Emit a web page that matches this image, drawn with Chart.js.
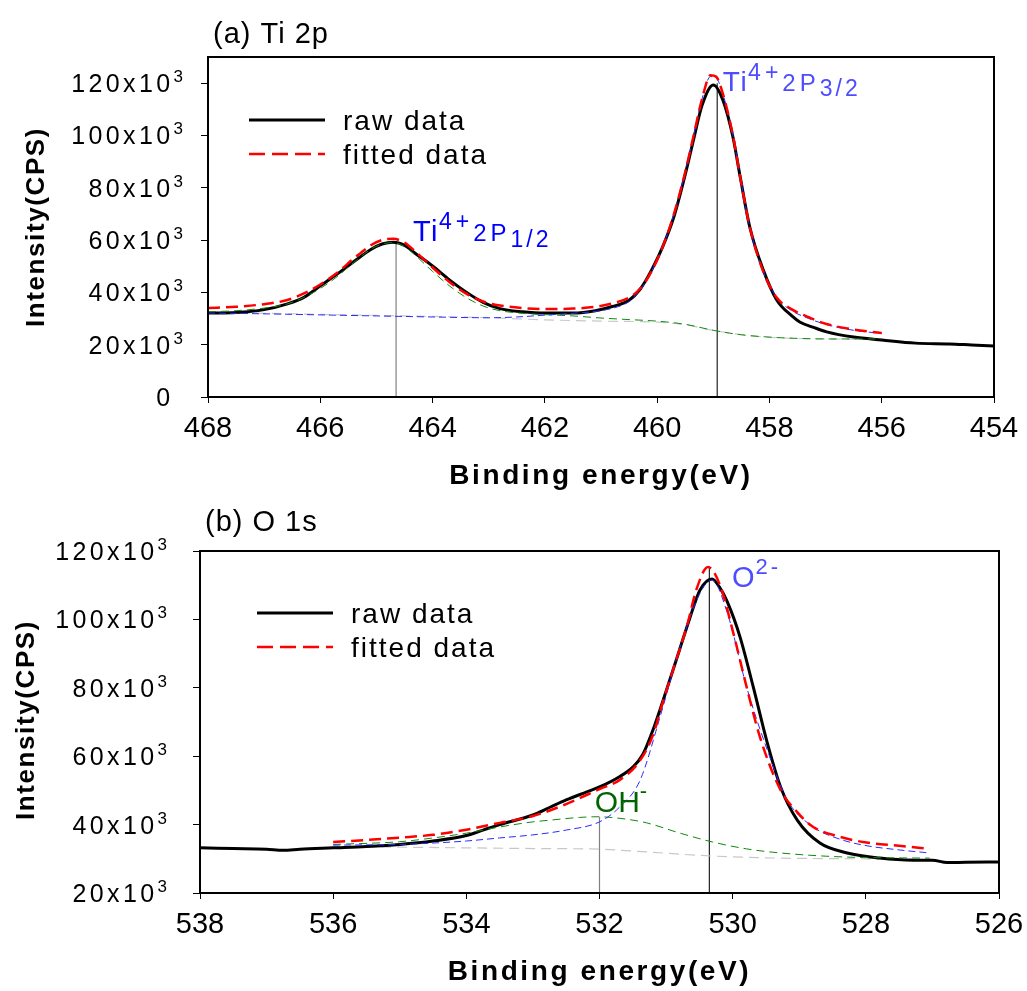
<!DOCTYPE html>
<html>
<head>
<meta charset="utf-8">
<script src="https://cdn.jsdelivr.net/npm/chart.js@4.4.1/dist/chart.umd.min.js"></script>
<style>
  html, body { margin: 0; padding: 0; background: #fff; }
  .box { position: relative; width: 1027px; }
  #tiBox { height: 495px; }
  #oBox { height: 496px; }
</style>
</head>
<body>
<div class="box" id="tiBox"><canvas id="ti"></canvas></div>
<div class="box" id="oBox"><canvas id="o1s"></canvas></div>
<script>
// intensities are in 10^3 CPS, energies in eV

// (a) Ti 2p
const tiRawE = [468.0, 467.5, 467.0, 466.6, 466.3, 466.0, 465.7, 465.4, 465.1, 464.9, 464.7, 464.5, 464.3, 464.0, 463.7, 463.4, 463.1, 462.8, 462.4, 462.0, 461.5, 461.1, 460.8, 460.5, 460.3, 460.1, 459.9, 459.7, 459.5, 459.35, 459.2, 459.0, 458.83, 458.65, 458.52, 458.35, 458.11, 457.87, 457.6, 457.46, 457.2, 456.98, 456.5, 456.0, 455.4, 454.8, 454.4, 454.0];
const tiRawI = [32.1, 32.3, 33.4, 35.5, 38.0, 42.5, 47.0, 51.8, 56.4, 58.5, 59.2, 58.0, 54.8, 50.1, 44.8, 40.1, 36.2, 33.8, 32.6, 32.1, 32.1, 33.0, 34.6, 37.0, 41.3, 48.5, 57.5, 69.0, 85.0, 98.5, 111.5, 119.3, 113.6, 99.4, 84.1, 65.0, 48.6, 37.1, 31.0, 28.7, 26.5, 24.9, 22.9, 21.8, 20.6, 20.3, 19.9, 19.5];

const tiFitE = [468.0, 467.5, 467.0, 466.6, 466.3, 466.0, 465.7, 465.4, 465.1, 464.9, 464.7, 464.5, 464.3, 464.0, 463.7, 463.4, 463.1, 462.8, 462.4, 462.0, 461.5, 461.1, 460.8, 460.5, 460.3, 460.1, 459.9, 459.7, 459.5, 459.35, 459.2, 459.05, 458.95, 458.83, 458.65, 458.52, 458.35, 458.11, 457.87, 457.6, 457.3, 457.0, 456.5, 456.0];
const tiFitI = [34.0, 34.5, 35.5, 37.0, 39.5, 43.0, 47.5, 53.0, 58.0, 60.0, 60.5, 59.0, 55.5, 49.5, 44.0, 39.5, 36.5, 35.0, 34.0, 33.6, 33.8, 34.5, 35.8, 38.0, 41.5, 48.0, 57.5, 70.0, 86.0, 100.0, 114.0, 123.0, 122.5, 116.0, 100.0, 84.0, 65.0, 48.0, 38.0, 33.5, 30.5, 28.0, 25.8, 24.5];

const tiP32E = [468.0, 467.0, 466.0, 465.0, 464.0, 463.0, 462.5, 462.0, 461.5, 461.0, 460.7, 460.5, 460.3, 460.1, 459.9, 459.7, 459.5, 459.35, 459.2, 459.05, 458.95, 458.83, 458.65, 458.52, 458.35, 458.11, 457.87, 457.6, 457.3, 457.0, 456.5, 456.0];
const tiP32I = [32.1, 31.8, 31.4, 31.0, 30.6, 30.3, 30.6, 31.3, 32.0, 33.0, 34.5, 36.5, 41.0, 48.0, 57.5, 70.0, 86.0, 100.0, 114.0, 122.5, 122.0, 116.0, 100.0, 84.0, 65.0, 48.0, 38.0, 33.0, 30.0, 27.8, 25.5, 24.3];

const tiP12E = [468.0, 467.5, 467.0, 466.6, 466.3, 466.0, 465.7, 465.4, 465.1, 464.9, 464.7, 464.5, 464.3, 464.0, 463.7, 463.4, 463.1, 462.8, 462.4, 462.0, 461.5, 461.0, 460.5, 460.0, 459.5, 459.0, 458.5, 458.0, 457.5, 457.0, 456.5, 456.0];
const tiP12I = [32.6, 33.0, 34.0, 35.5, 38.0, 41.5, 46.0, 51.5, 56.5, 58.5, 59.0, 57.5, 54.0, 48.0, 42.5, 38.0, 34.8, 33.0, 32.0, 31.5, 31.0, 30.2, 29.6, 29.0, 27.8, 25.5, 23.8, 22.9, 22.4, 22.2, 22.2, 22.2];

const tiBgE = [468.0, 467.0, 466.0, 465.0, 464.0, 463.0, 462.0, 461.0, 460.0, 459.5, 459.0, 458.5, 458.0, 457.0, 456.0];
const tiBgI = [32.3, 32.0, 31.6, 31.2, 30.8, 30.3, 29.5, 29.0, 28.6, 27.6, 25.5, 23.8, 22.8, 22.2, 22.0];

const tiPeakE = [464.65, 458.93];
const tiPeakTop = [59.2, 120];
const tiRangeX = [468, 454];
const tiRangeY = [0, 130];

// (b) O 1s
const oRawE = [538.0, 537.5, 537.0, 536.75, 536.5, 536.0, 535.5, 535.0, 534.5, 534.0, 533.75, 533.5, 533.0, 532.75, 532.5, 532.2, 532.0, 531.7, 531.5, 531.35, 531.2, 531.0, 530.8, 530.65, 530.49, 530.31, 530.2, 530.08, 529.89, 529.69, 529.48, 529.28, 529.03, 528.69, 528.28, 527.79, 527.29, 527.0, 526.78, 526.5, 526.0];
const oRawI = [33.2, 33.0, 32.8, 32.5, 32.8, 33.2, 33.6, 34.2, 35.2, 36.8, 38.4, 40.0, 42.8, 45.0, 47.2, 49.5, 51.0, 54.0, 56.8, 60.5, 67.5, 79.0, 91.0, 100.0, 108.6, 111.8, 109.5, 105.1, 94.9, 80.2, 63.9, 51.0, 41.3, 34.6, 31.7, 30.2, 29.6, 29.6, 28.9, 29.0, 29.1];

const oFitE = [536.0, 535.5, 535.0, 534.5, 534.0, 533.5, 533.0, 532.5, 532.0, 531.7, 531.4, 531.2, 531.04, 530.85, 530.69, 530.54, 530.37, 530.19, 529.99, 529.79, 529.59, 529.28, 529.0, 528.79, 528.4, 528.04, 527.5, 527.04];
const oFitI = [34.9, 35.5, 36.2, 37.0, 38.5, 40.5, 42.5, 46.0, 50.4, 53.0, 58.5, 66.0, 76.4, 88.0, 97.8, 109.0, 115.3, 110.0, 96.0, 80.2, 65.6, 50.1, 43.0, 39.3, 36.5, 34.9, 33.8, 32.9];

const oO2E = [536.0, 535.0, 534.5, 534.0, 533.5, 533.0, 532.5, 532.0, 531.7, 531.39, 531.09, 530.79, 530.49, 530.31, 530.08, 529.79, 529.48, 529.18, 528.79, 528.4, 528.04, 527.5, 527.04];
const oO2I = [34.0, 34.2, 34.6, 35.2, 36.1, 37.0, 38.4, 40.8, 45.1, 53.0, 71.5, 91.9, 107.7, 111.5, 101.9, 80.2, 61.8, 47.2, 39.3, 35.8, 34.0, 32.6, 31.7];

const oOHE = [536.0, 535.0, 534.5, 534.0, 533.5, 533.0, 532.74, 532.3, 532.0, 531.9, 531.6, 531.29, 530.79, 530.3, 529.79, 529.28, 528.28, 527.04];
const oOHI = [34.2, 35.0, 36.1, 37.5, 39.3, 40.8, 41.3, 42.1, 42.3, 42.2, 41.6, 40.5, 37.5, 34.9, 32.9, 31.7, 30.5, 30.2];

const oBgE = [536.0, 535.0, 534.0, 533.0, 532.0, 531.29, 530.3, 529.28, 528.0, 527.04];
const oBgI = [33.6, 33.4, 33.2, 33.0, 32.8, 32.0, 30.8, 30.2, 30.0, 29.9];

const oPeakE = [532.0, 530.35];
const oPeakTop = [42.2, 115.3];
const oRangeX = [538, 526];
const oRangeY = [20, 120];

const FONT = "'Liberation Sans', Arial, sans-serif";

const pts = (e, v) => e.map((x, i) => ({ x: x, y: v[i] }));

function dashed(label, e, v, color, dash, width) {
  return { label, data: pts(e, v), borderColor: color, borderWidth: width, borderDash: dash,
           pointRadius: 0, fill: false, cubicInterpolationMode: 'monotone' };
}

function vline(x, base, top, color) {
  return { label: 'peak', data: [{ x: x, y: base }, { x: x, y: top }], borderColor: color,
           borderWidth: 1.2, pointRadius: 0, fill: false };
}

function drawRich(ctx, x, y, parts, color) {
  ctx.save();
  ctx.fillStyle = color;
  ctx.textBaseline = 'alphabetic';
  ctx.textAlign = 'left';
  for (const p of parts) {
    ctx.font = (p.bold ? 'bold ' : '') + p.size + 'px ' + FONT;
    ctx.letterSpacing = (p.ls || 0) + 'px';
    ctx.fillText(p.t, x, y + (p.dy || 0));
    x += ctx.measureText(p.t).width;
  }
  ctx.restore();
}

// frame, titles, legend, peak labels and y tick labels
function decorPlugin(cfg) {
  return {
    id: 'decor',
    afterDraw(chart) {
      const ctx = chart.ctx;
      const a = chart.chartArea;
      const xs = chart.scales.x, ys = chart.scales.y;
      ctx.save();
      ctx.strokeStyle = '#000';
      ctx.lineWidth = 2;
      ctx.strokeRect(a.left, a.top, a.right - a.left, a.bottom - a.top);

      drawRich(ctx, cfg.titleX, cfg.titleY, [{ t: cfg.title, size: 29, ls: 1 }], '#000');

      // legend
      const lx = a.left + cfg.legX, ly = a.top + cfg.legY;
      ctx.lineWidth = 3; ctx.strokeStyle = '#000'; ctx.setLineDash([]);
      ctx.beginPath(); ctx.moveTo(lx, ly); ctx.lineTo(lx + 76, ly); ctx.stroke();
      ctx.lineWidth = 2.5; ctx.strokeStyle = '#ff0000'; ctx.setLineDash([16, 7]);
      ctx.beginPath(); ctx.moveTo(lx, ly + 34); ctx.lineTo(lx + 76, ly + 34); ctx.stroke();
      ctx.setLineDash([]);
      drawRich(ctx, lx + 94, ly + 10, [{ t: 'raw data', size: 28, ls: 2 }], '#000');
      drawRich(ctx, lx + 94, ly + 44, [{ t: 'fitted data', size: 28, ls: 2 }], '#000');

      cfg.labels.forEach(l => {
        drawRich(ctx, xs.getPixelForValue(l.e), ys.getPixelForValue(l.v), l.parts, l.color);
      });

      // y tick labels  "120x10^3"
      ys.ticks.forEach(t => {
        const py = ys.getPixelForValue(t.value);
        ctx.fillStyle = '#000';
        ctx.textBaseline = 'alphabetic';
        ctx.textAlign = 'left';
        ctx.font = '17px ' + FONT;
        ctx.letterSpacing = '0px';
        const supW = ctx.measureText('3').width;
        ctx.font = '25px ' + FONT;
        ctx.letterSpacing = '3.4px';
        if (t.value === 0) {
          const w = ctx.measureText('0').width;
          ctx.fillText('0', cfg.tickRight - supW - w, py + 9);
        } else {
          const main = t.value + 'x10';
          const w = ctx.measureText(main).width;
          const x0 = cfg.tickRight - supW - w;
          ctx.fillText(main, x0, py + 9);
          ctx.font = '17px ' + FONT;
          ctx.letterSpacing = '0px';
          ctx.fillText('3', x0 + w, py - 1);
        }
      });

      // axis titles
      ctx.save();
      ctx.font = 'bold 26px ' + FONT;
      ctx.letterSpacing = '1.6px';
      ctx.fillStyle = '#000';
      ctx.textAlign = 'center';
      ctx.textBaseline = 'middle';
      ctx.translate(cfg.yTitleX, cfg.yTitleY);
      ctx.rotate(-Math.PI / 2);
      ctx.fillText('Intensity(CPS)', 0, 0);
      ctx.restore();

      ctx.save();
      ctx.font = 'bold 28px ' + FONT;
      ctx.letterSpacing = '2.6px';
      ctx.fillStyle = '#000';
      ctx.textAlign = 'center';
      ctx.textBaseline = 'alphabetic';
      ctx.fillText('Binding energy(eV)', (a.left + a.right) / 2, a.bottom + 87);
      ctx.restore();
      ctx.restore();
    }
  };
}

function makeChart(id, sets, xr, yr, geo, cfg) {
  return new Chart(document.getElementById(id), {
    type: 'line',
    data: { datasets: sets },
    options: {
      responsive: true,
      maintainAspectRatio: false,
      animation: false,
      layout: { padding: { left: 0, right: geo.right, top: geo.top, bottom: 0 } },
      plugins: { legend: { display: false }, tooltip: { enabled: false }, title: { display: false } },
      scales: {
        x: {
          type: 'linear', reverse: true, min: xr[1], max: xr[0],
          ticks: { stepSize: 2, color: '#000', padding: 9, font: { family: FONT, size: 29 } },
          grid: { drawOnChartArea: false, drawTicks: true, tickLength: 6, color: '#000' },
          border: { color: '#000', width: 2 },
          afterFit(s) { s.height = geo.xh; s.paddingLeft = 0; s.paddingRight = 0; }
        },
        y: {
          type: 'linear', min: yr[0], max: yr[1],
          ticks: { stepSize: 20, display: false },
          grid: { drawOnChartArea: false, drawTicks: true, tickLength: 7, color: '#000' },
          border: { color: '#000', width: 2 },
          afterBuildTicks(s) { s.ticks = s.ticks.filter(t => t.value <= 120); },
          afterFit(s) { s.width = geo.yw; s.paddingTop = 0; s.paddingBottom = 0; }
        }
      }
    },
    plugins: [decorPlugin(cfg)]
  });
}

const RED = '#ff0000', BLUE = '#2a2aff', GREEN = '#118811', GRAY = '#c8c8c8';

makeChart('ti', [
  dashed('fitted data', tiFitE, tiFitI, RED, [12, 6], 2.5),
  dashed('Ti 2P3/2', tiP32E, tiP32I, BLUE, [7, 4], 1),
  dashed('Ti 2P1/2', tiP12E, tiP12I, GREEN, [8, 5], 1),
  dashed('raw data', tiRawE, tiRawI, '#000', [], 3),
  dashed('background', tiBgE, tiBgI, GRAY, [10, 6], 1.2),
  vline(tiPeakE[0], tiRangeY[0], tiPeakTop[0], '#808080'),
  vline(tiPeakE[1], tiRangeY[0], tiPeakTop[1], '#222')
], tiRangeX, tiRangeY, { right: 33, top: 57, xh: 98, yw: 208 }, {
  title: '(a) Ti 2p', titleX: 213, titleY: 43,
  legX: 41, legY: 63,
  tickRight: 183, yTitleX: 37, yTitleY: 227,
  labels: [
    { e: 464.35, v: 59.7, color: '#0000ff', parts: [
      { t: 'Ti', size: 29, ls: 1.5 }, { t: '4+', size: 23, dy: -12, ls: 4 },
      { t: '2P', size: 24, ls: 4 }, { t: '1/2', size: 23, dy: 6, ls: 3 }] },
    { e: 458.83, v: 117.0, color: '#4d4dff', parts: [
      { t: 'Ti', size: 28, ls: 1.5 }, { t: '4+', size: 23, dy: -11, ls: 4 },
      { t: '2P', size: 24, ls: 4 }, { t: '3/2', size: 23, dy: 5, ls: 3 }] }
  ]
});

makeChart('o1s', [
  dashed('fitted data', oFitE, oFitI, RED, [12, 6], 2.5),
  dashed('O2-', oO2E, oO2I, BLUE, [7, 4], 1),
  dashed('OH-', oOHE, oOHI, GREEN, [8, 5], 1),
  dashed('raw data', oRawE, oRawI, '#000', [], 3),
  dashed('background', oBgE, oBgI, GRAY, [10, 6], 1.2),
  vline(oPeakE[0], oRangeY[0], oPeakTop[0], '#808080'),
  vline(oPeakE[1], oRangeY[0], oPeakTop[1], '#222')
], oRangeX, oRangeY, { right: 28, top: 56, xh: 98, yw: 200 }, {
  title: '(b) O 1s', titleX: 205, titleY: 36,
  legX: 57, legY: 62,
  tickRight: 167, yTitleX: 27, yTitleY: 225,
  labels: [
    { e: 530.01, v: 109.5, color: '#4d4dff', parts: [
      { t: 'O', size: 29, ls: 1 }, { t: '2-', size: 22, dy: -13, ls: 3 }] },
    { e: 532.07, v: 43.7, color: '#006400', parts: [
      { t: 'OH', size: 30, ls: 0 }, { t: '-', size: 22, dy: -14, ls: 0 }] }
  ]
});
</script>
</body>
</html>
